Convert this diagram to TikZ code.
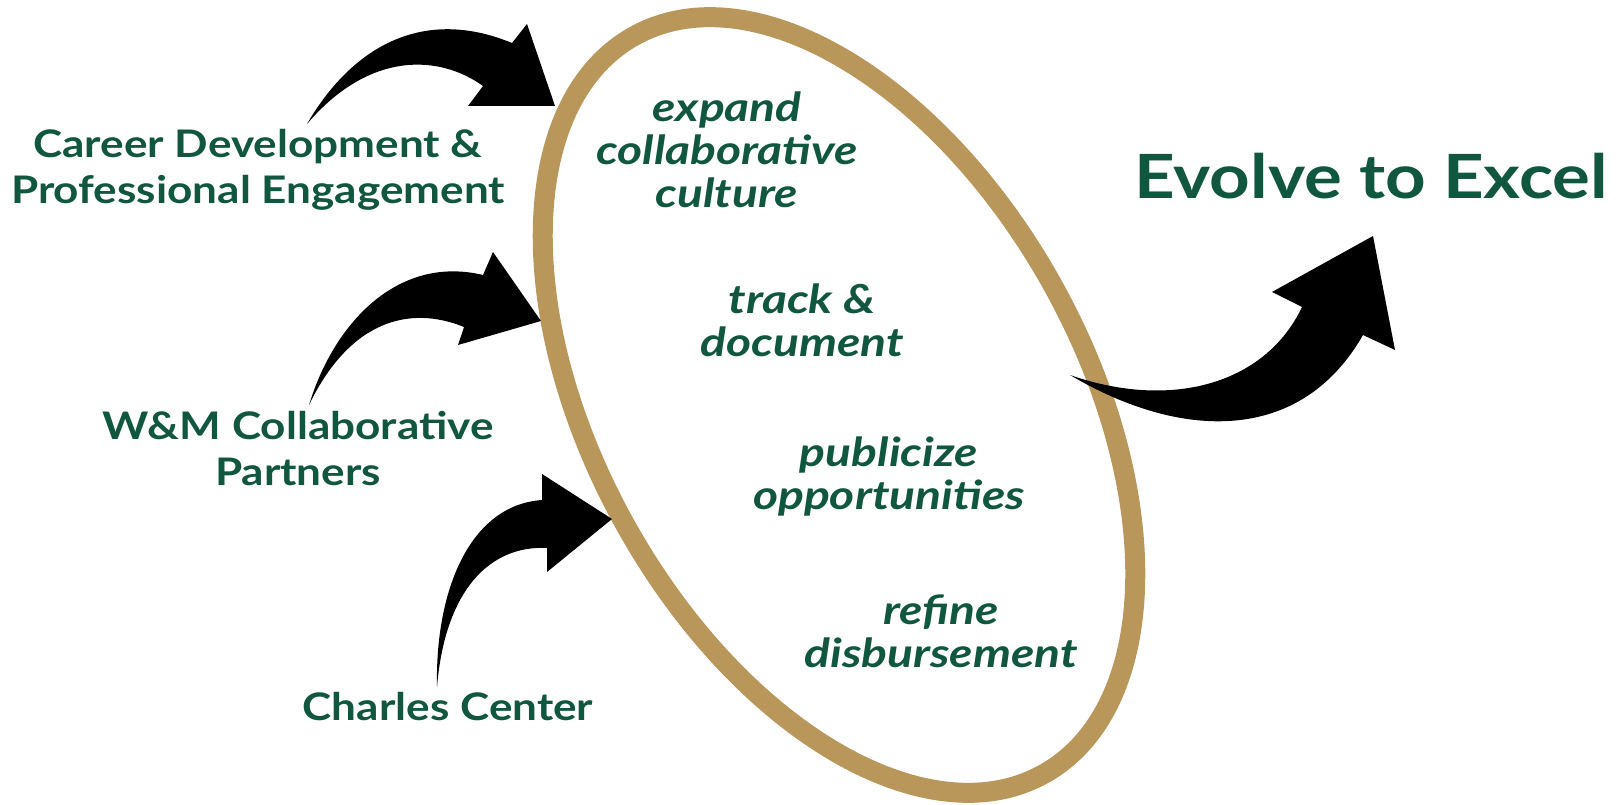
\documentclass[tikz,border=0pt]{standalone}
\usepackage{fontspec}
\setmainfont{Lato}[FakeStretch=1.16]
\newfontfamily\phasefont{Lato}[FakeStretch=1.2]
\definecolor{wmgreen}{RGB}{17,87,64}
\definecolor{wmgold}{RGB}{185,151,91}
\tikzset{
  srclabel/.style={text=wmgreen, font=\fontsize{38}{46}\selectfont\bfseries, align=center, inner sep=0.75pt},
  phase/.style={text=wmgreen, font=\phasefont\fontsize{40}{43}\selectfont\bfseries\itshape, align=center, inner sep=0.75pt},
  goal/.style={text=wmgreen, font=\fontsize{61}{70}\selectfont\bfseries, inner sep=0.75pt},
  blockarrow/.style={fill=black, draw=none}
}
\begin{document}
\begin{tikzpicture}[x=1pt,y=1pt,yscale=-1,xscale=1]
\useasboundingbox (0,0) rectangle (1619,805);

%Shape: Ellipse
\draw [color=wmgold, line width=20, rotate around={61:(839,405)}] (839,405) ellipse [x radius=422, y radius=245];

%Shape: Curved Arrow (top)
\fill [blockarrow] (307,124) .. controls (350,50) and (420,5) .. (512,43) -- (527,24) -- (555,106) -- (468,106) -- (483,86) .. controls (440,55) and (370,50) .. (307,124) -- cycle;
%Shape: Curved Arrow (middle)
\fill [blockarrow] (309,405) .. controls (335,320) and (400,255) .. (483,275) -- (493,252) -- (541,321) -- (458,345) -- (464,327) .. controls (410,305) and (350,320) .. (309,405) -- cycle;
%Shape: Curved Arrow (bottom)
\fill [blockarrow] (437,687) .. controls (435,590) and (470,505) .. (542,500) -- (542,474) -- (612,519) -- (547,572) -- (547,548) .. controls (490,545) and (445,590) .. (437,687) -- cycle;
%Shape: Curved Arrow (right)
\fill [blockarrow] (1070,375) .. controls (1180,440) and (1300,445) .. (1363,335) -- (1395,350) -- (1373,236) -- (1272,292) -- (1302,307) .. controls (1265,385) and (1170,410) .. (1070,375) -- cycle;

% Text Node
\draw (258,170) node (career) [srclabel] {Career Development \&\\Professional Engagement};
% Text Node
\draw (298,449) node (partners) [srclabel] {W\&M Collaborative\\Partners};
% Text Node
\draw (448,707) node (charles) [srclabel] {Charles Center};
% Text Node
\draw (1371,176) node (excel) [goal] {Evolve to Excel};

% Text Node
\draw (727,150) node (expand) [phase] {expand\\collaborative\\culture};
% Text Node
\draw (802,320) node (track) [phase] {track \&\\document};
% Text Node
\draw (889,476) node (publicize) [phase] {publicize\\opportunities};
% Text Node
\draw (941,631) node (refine) [phase] {refine\\disbursement};

\end{tikzpicture}
\end{document}
